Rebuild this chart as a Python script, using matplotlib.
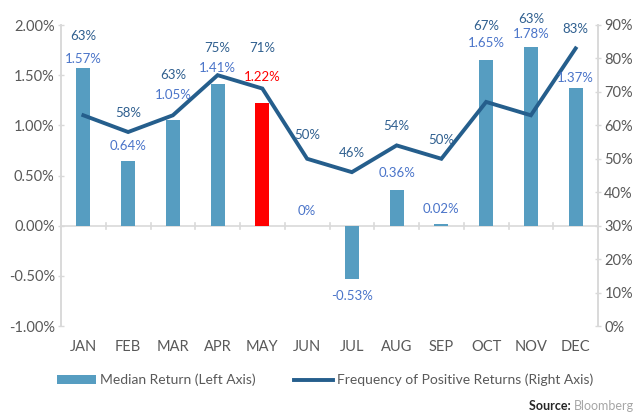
import matplotlib
matplotlib.use("Agg")
import matplotlib.pyplot as plt
import numpy as np
from matplotlib.lines import Line2D
from matplotlib.patches import Patch

months = ["JAN", "FEB", "MAR", "APR", "MAY", "JUN", "JUL", "AUG", "SEP", "OCT", "NOV", "DEC"]
median_return = [1.57, 0.64, 1.05, 1.41, 1.22, 0.00, -0.53, 0.36, 0.02, 1.65, 1.78, 1.37]
bar_labels = ["1.57%", "0.64%", "1.05%", "1.41%", "1.22%", "0%", "-0.53%", "0.36%", "0.02%", "1.65%", "1.78%", "1.37%"]
freq_positive = [63, 58, 63, 75, 71, 50, 46, 54, 50, 67, 63, 83]
highlight = "MAY"

# label layout (pixel offsets of label centres from the data points)
line_label_offsets = [79, 19, 40, 27, 41, 24, 19, 19, 19, 76, 96, 19]
bar_label_offsets = [9, 15, 25, 16, 26, 15, 17, 17, 15, 17, 13, 10]

plt.rcParams['font.family'] = ['Lato', 'DejaVu Sans']

W, H = 640, 419
fig = plt.figure(figsize=(W / 100, H / 100), dpi=100)
ax = fig.add_axes([61 / W, 1 - 326 / H, (598 - 61) / W, (326 - 25) / H])
ax2 = ax.twinx()

bar_color = "#569dc1"
line_color = "#255e8c"
label_blue = "#4a74c9"
line_label_color = "#2f5f8f"
grey = "#d9d9d9"
tick_text = "#595959"

x = np.arange(len(months))
colors = ["#ff0000" if m == highlight else bar_color for m in months]
ax.bar(x, median_return, width=0.31, color=colors, zorder=2)
ax.set_xlim(-0.5, len(months) - 0.5)
ax.set_ylim(-1.0, 2.0)
ax.set_yticks(np.arange(-1.0, 2.01, 0.5))
ax.set_yticklabels([f"{v:.2f}%" for v in np.arange(-1.0, 2.01, 0.5)])

ax2.plot(x, freq_positive, color=line_color, lw=2.8, zorder=3, solid_joinstyle='miter')
ax2.set_ylim(0, 90)
ax2.set_yticks(np.arange(0, 91, 10))
ax2.set_yticklabels([f"{v}%" for v in range(0, 91, 10)])

for a in (ax, ax2):
    a.spines['top'].set_visible(False)
    a.spines['bottom'].set_visible(False)
    a.spines['left'].set_color(grey)
    a.spines['right'].set_color(grey)
    a.spines['left'].set_linewidth(1.2)
    a.spines['right'].set_linewidth(1.2)
    a.tick_params(axis='y', colors=grey, labelcolor=tick_text, labelsize=10.5, length=5, width=1.0, direction='inout', pad=2)
ax.set_zorder(ax2.get_zorder() - 1)
ax.patch.set_visible(False)
ax2.patch.set_visible(False)

# x axis line at zero
ax.axhline(0, color=grey, lw=1.2, zorder=1)
for b in np.arange(0.5, len(months) - 0.5, 1.0):
    ax.plot([b, b], [-0.03, 0.03], color=grey, lw=1.2, zorder=1)
ax.set_xticks(x)
ax.set_xticklabels(months)
ax.tick_params(axis='x', length=0, labelsize=10.5, labelcolor=tick_text, pad=10)

# bar labels (drawn on top of the line)
for i, (v, t, off) in enumerate(zip(median_return, bar_labels, bar_label_offsets)):
    c = "#ff0000" if months[i] == highlight else label_blue
    dy = off if v >= 0 else -off
    ax2.annotate(t, (i, v), xycoords=ax.transData, xytext=(0, dy), textcoords='offset pixels',
                 ha='center', va='center', fontsize=9.5, color=c, zorder=5)

for i, (v, off) in enumerate(zip(freq_positive, line_label_offsets)):
    ax2.annotate(f"{v}%", (i, v), xytext=(0, off), textcoords='offset pixels', ha='center', va='center',
                 fontsize=9.5, color=line_label_color, zorder=5)

handles = [Patch(facecolor=bar_color, edgecolor='none'), Line2D([0], [0], color=line_color, lw=2.8)]
leg = fig.legend(handles, ["Median Return (Left Axis)", "Frequency of Positive Returns (Right Axis)"],
                 loc='center', bbox_to_anchor=(0.508, 1 - 380 / H), ncol=2, frameon=False,
                 fontsize=10, handlelength=2.8, handleheight=0.6, columnspacing=2.8, handletextpad=0.3)
for t in leg.get_texts():
    t.set_color(tick_text)

bl = fig.text(0.99, 1 - 406 / H, "Bloomberg", ha='right', va='center', fontsize=9, color="#a6a6a6")
fig.canvas.draw()
ext = bl.get_window_extent()
fig.text(ext.x0 / W, 1 - 406 / H, "Source: ", ha='right', va='center', fontsize=9, fontweight='bold', color="#262626")

fig.savefig("out.png", dpi=100)
